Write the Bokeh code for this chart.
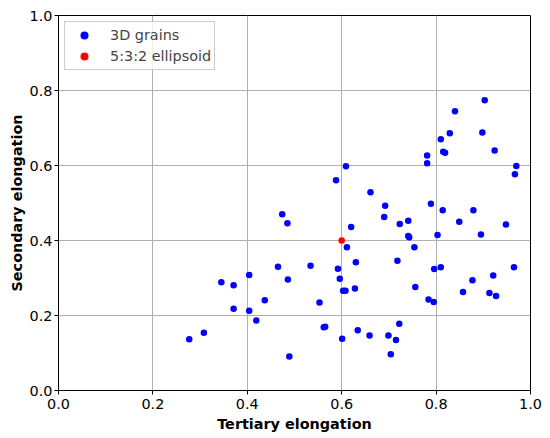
from bokeh.plotting import figure
from bokeh.models import Range1d, FixedTicker, Legend, LegendItem, CustomJSTickFormatter
from bokeh.embed import file_html
from bokeh.resources import INLINE

tertiary = [0.277, 0.308, 0.345, 0.371, 0.371, 0.404, 0.404, 0.419, 0.437, 0.465,
            0.474, 0.485, 0.486, 0.489, 0.534, 0.553, 0.562, 0.565, 0.588, 0.592,
            0.596, 0.601, 0.603, 0.608, 0.609, 0.611, 0.620, 0.628, 0.630, 0.634,
            0.659, 0.661, 0.690, 0.692, 0.699, 0.704, 0.715, 0.718, 0.722, 0.723,
            0.741, 0.741, 0.743, 0.754, 0.756, 0.781, 0.781, 0.784, 0.789, 0.795,
            0.796, 0.803, 0.810, 0.810, 0.814, 0.815, 0.819, 0.829, 0.840, 0.849,
            0.857, 0.877, 0.879, 0.895, 0.898, 0.903, 0.913, 0.921, 0.924, 0.927,
            0.948, 0.965, 0.967, 0.970]
secondary = [0.137, 0.154, 0.289, 0.281, 0.218, 0.308, 0.213, 0.187, 0.241, 0.330,
             0.470, 0.446, 0.296, 0.091, 0.333, 0.235, 0.169, 0.170, 0.561, 0.325,
             0.298, 0.138, 0.266, 0.266, 0.598, 0.382, 0.436, 0.272, 0.342, 0.161,
             0.147, 0.529, 0.463, 0.493, 0.147, 0.097, 0.135, 0.346, 0.178, 0.444,
             0.453, 0.412, 0.409, 0.382, 0.276, 0.627, 0.606, 0.243, 0.498, 0.236,
             0.324, 0.415, 0.329, 0.670, 0.481, 0.637, 0.634, 0.686, 0.745, 0.450,
             0.263, 0.294, 0.481, 0.416, 0.688, 0.774, 0.260, 0.307, 0.640, 0.252,
             0.443, 0.329, 0.577, 0.599]
ellipsoid_tertiary = [0.6]
ellipsoid_secondary = [0.4]
tick_values = [0.0, 0.2, 0.4, 0.6, 0.8, 1.0]

FONT = "DejaVu Sans"
FS = "14.4px"

p = figure(width=550, height=438, output_backend="svg", toolbar_location=None,
           x_range=Range1d(0, 1), y_range=Range1d(0, 1),
           min_border_left=58, min_border_right=20, min_border_top=15, min_border_bottom=48)

r1 = p.scatter(tertiary, secondary, size=6.5, color="blue", line_color=None)
r2 = p.scatter(ellipsoid_tertiary, ellipsoid_secondary, size=6.5, color="red", line_color=None)

fmt = CustomJSTickFormatter(code="return tick.toFixed(1);")
for ax in (p.xaxis[0], p.yaxis[0]):
    ax.ticker = FixedTicker(ticks=tick_values)
    ax.formatter = fmt
    ax.major_label_text_font = FONT
    ax.major_label_text_font_size = FS
    ax.major_label_text_color = "black"
    ax.major_label_standoff = 2
    ax.axis_label_text_font = FONT
    ax.axis_label_text_font_size = FS
    ax.axis_label_text_font_style = "bold"
    ax.axis_label_text_color = "black"
    ax.major_tick_in = 0
    ax.major_tick_out = 4
    ax.minor_tick_line_color = None
    ax.axis_line_color = "black"
    ax.major_tick_line_color = "black"
    ax.axis_label_standoff = 2

p.xaxis.major_label_standoff = 4
p.xaxis.axis_label_standoff = 4

p.xaxis.axis_label = "Tertiary elongation"
p.yaxis.axis_label = "Secondary elongation"

p.grid.grid_line_color = "#b0b0b0"
p.grid.grid_line_width = 1
p.outline_line_color = "black"
p.outline_line_alpha = 1

legend = Legend(items=[LegendItem(label="3D grains", renderers=[r1]),
                       LegendItem(label="5:3:2 ellipsoid", renderers=[r2])],
                location="top_left")
legend.label_text_font = FONT
legend.label_text_font_size = FS
legend.border_line_color = "#cccccc"
legend.border_line_alpha = 1
legend.background_fill_alpha = 0.8
legend.margin = 6
legend.padding = 3
legend.spacing = 1
legend.glyph_width = 32
legend.label_standoff = 10
p.add_layout(legend)

open("out.html", "w").write(file_html(p, INLINE))
